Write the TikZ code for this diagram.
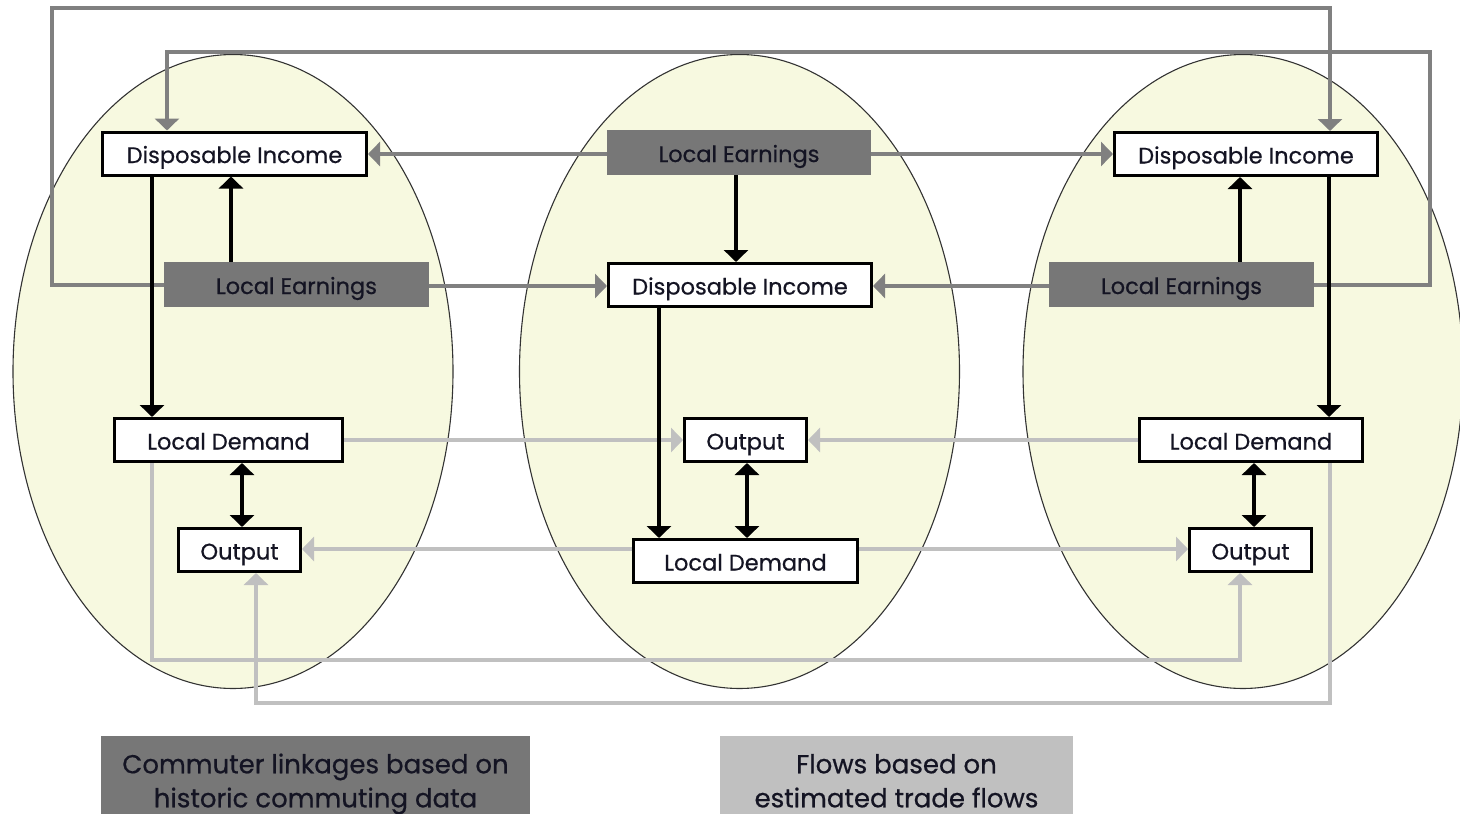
\documentclass[tikz,border=0pt]{standalone}
\usepackage{fontspec}
\setmainfont{Poppins}[FakeBold=0.6]
\usetikzlibrary{shapes.geometric,arrows.meta}
\definecolor{ellfill}{RGB}{247,249,224}
\definecolor{darkg}{RGB}{119,119,119}
\definecolor{commg}{RGB}{128,128,128}
\definecolor{tradeg}{RGB}{192,192,192}
\definecolor{txt}{RGB}{20,20,35}
\tikzset{
  region/.style={ellipse, fill=ellfill, draw=black!80, line width=1.1pt, minimum width=440pt, minimum height=634pt, inner sep=0pt},
  boxfont/.style={font=\fontsize{22.5}{26}\selectfont, text=txt, text height=19pt, text depth=0pt},
  whitebox/.style={boxfont, draw=black, line width=3pt, fill=white, minimum height=43pt, inner sep=0pt},
  earnbox/.style={boxfont, fill=darkg, minimum height=45pt, inner sep=0pt},
  legbox/.style={minimum height=95pt, inner sep=0pt, align=center, font=\fontsize{26}{34}\selectfont, text=txt},
  tip/.style={-{Triangle[width=24pt,length=12pt]}},
  blk/.style={tip, line width=4.5pt, black},
  blkboth/.style={{Triangle[width=24pt,length=12pt]}-{Triangle[width=24pt,length=12pt]}, line width=4.5pt, black},
  commute/.style={tip, line width=4pt, commg},
  trade/.style={tip, line width=4pt, tradeg},
}
\begin{document}
\begin{tikzpicture}[x=1pt,y=-1pt]
\useasboundingbox (0,0) rectangle (1460,814);
\begin{scope}
\clip (0,0) rectangle (1460,814);
% regions
\node[region] (EL) at (233,371.5) {};
\node[region] (EM) at (739.5,371.5) {};
\node[region] (ER) at (1243,371.5) {};

% left region
\node[whitebox, minimum width=264pt] (LDI) at (234.5,153.5) {Disposable Income};
\node[earnbox, minimum width=265pt] (LLE) at (296.5,284.5) {Local Earnings};
\node[whitebox, minimum width=228pt] (LLD) at (228.5,440) {Local Demand};
\node[whitebox, minimum width=122pt] (LO) at (239.5,550) {Output};
% middle region
\node[earnbox, minimum width=264pt] (MLE) at (739,152.5) {Local Earnings};
\node[whitebox, minimum width=263pt] (MDI) at (740,285) {Disposable Income};
\node[whitebox, minimum width=122pt] (MO) at (745.5,440) {Output};
\node[whitebox, minimum width=224pt] (MLD) at (745.5,561) {Local Demand};
% right region
\node[whitebox, minimum width=263pt] (RDI) at (1246,154) {Disposable Income};
\node[earnbox, minimum width=265pt] (RLE) at (1181.5,284.5) {Local Earnings};
\node[whitebox, minimum width=223pt] (RLD) at (1251,440) {Local Demand};
\node[whitebox, minimum width=122pt] (RO) at (1250.5,550) {Output};

% legend (boxes run off the lower edge)
\node[legbox, fill=darkg, minimum width=429pt] (LEG1) at (315.5,783.5) {\strut Commuter linkages based on\\\strut historic commuting data};
\node[legbox, fill=tradeg, minimum width=353pt] (LEG2) at (896.5,783.5) {\strut Flows based on\\\strut estimated trade flows};

% bend coordinates
\coordinate (tl) at (52,8);
\coordinate (tr) at (1330,8);
\coordinate (ur) at (1430,52);
\coordinate (ul) at (167,52);
\coordinate (b1) at (1240,660);
\coordinate (b2) at (256,703);

% trade flows (light grey)
\draw[trade] (LLD.east) -- (MO.west);
\draw[trade] (RLD.west) -- (MO.east);
\draw[trade] (MLD.west |- 0,549) -- (LO.east |- 0,549);
\draw[trade] (MLD.east |- 0,549) -- (RO.west |- 0,549);
\draw[trade] (LLD.south -| 152,0) |- (b1) -- (RO.south -| b1);
\draw[trade] (RLD.south -| 1330,0) |- (b2) -- (LO.south -| b2);

% commuter linkages (dark grey)
\draw[commute] (MLE.west |- 0,154) -- (LDI.east |- 0,154);
\draw[commute] (MLE.east |- 0,154) -- (RDI.west |- 0,154);
\draw[commute] (LLE.east |- 0,286) -- (MDI.west |- 0,286);
\draw[commute] (RLE.west |- 0,286) -- (MDI.east |- 0,286);
\draw[commute] (LLE.west) -| (tl) -- (tr) -- (RDI.north -| tr);
\draw[commute] (RLE.east) -| (ur) -- (ul) -- (LDI.north -| ul);

% within-region links (black)
\draw[blk] (LLE.north -| 231,0) -- (LDI.south -| 231,0);
\draw[blk] (LDI.south -| 152,0) -- (LLD.north -| 152,0);
\draw[blkboth] (LLD.south -| 242,0) -- (LO.north -| 242,0);
\draw[blk] (MLE.south -| 736,0) -- (MDI.north -| 736,0);
\draw[blk] (MDI.south -| 659,0) -- (MLD.north -| 659,0);
\draw[blkboth] (MO.south -| 747,0) -- (MLD.north -| 747,0);
\draw[blk] (RLE.north -| 1240,0) -- (RDI.south -| 1240,0);
\draw[blk] (RDI.south -| 1329,0) -- (RLD.north -| 1329,0);
\draw[blkboth] (RLD.south -| 1254,0) -- (RO.north -| 1254,0);
\end{scope}
\end{tikzpicture}
\end{document}
